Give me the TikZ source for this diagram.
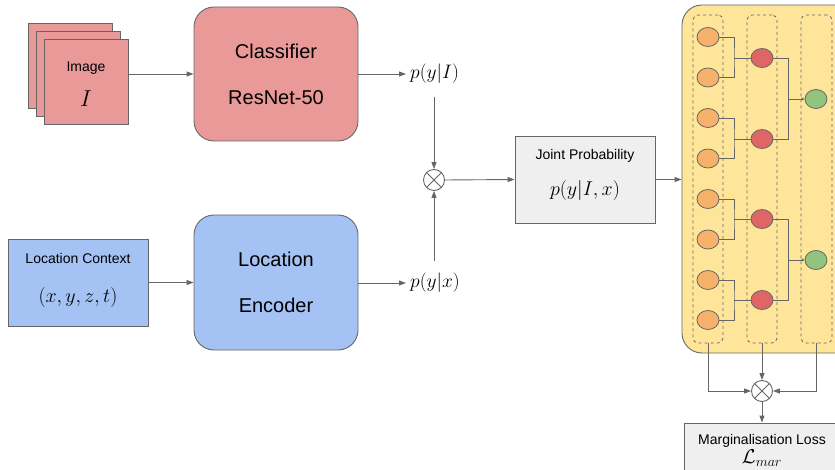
\RequirePackage{fix-cm}
\documentclass[tikz,border=0pt]{standalone}
\usepackage{fontspec}
\setmainfont{Liberation Sans}
\usetikzlibrary{arrows.meta,shapes.geometric,calc}
\definecolor{pinkf}{HTML}{EA9999}
\definecolor{bluef}{HTML}{A4C2F4}
\definecolor{yellowf}{HTML}{FFE599}
\definecolor{grayf}{HTML}{EFEFEF}
\definecolor{orangef}{HTML}{F6B26B}
\definecolor{redf}{HTML}{E06666}
\definecolor{greenf}{HTML}{93C47D}
\definecolor{linec}{HTML}{666666}
\tikzset{
  box/.style={draw=linec, line width=0.9pt, inner sep=0pt, align=center},
  bigbox/.style={box, rounded corners=20pt, minimum width=164pt, minimum height=134pt, font=\fontsize{20}{26}\selectfont},
  smallbox/.style={box, minimum width=140pt, minimum height=87pt},
  txt/.style={inner sep=0pt, align=center, font=\fontsize{14}{17}\selectfont},
  conn/.style={draw=linec, line width=0.9pt},
  arr/.style={conn, -{Triangle[length=7pt,width=5pt]}},
  sarr/.style={conn, -{Triangle[length=3pt,width=3pt]}},
  mathlbl/.style={inner sep=0pt, font=\fontsize{19.5}{20}\selectfont},
  otimesnode/.style={circle, draw=linec, line width=0.9pt, fill=white, minimum size=21pt, inner sep=0pt,
    path picture={\draw[linec, line width=0.9pt] (path picture bounding box.north west) -- (path picture bounding box.south east)
      (path picture bounding box.north east) -- (path picture bounding box.south west);}},
  dcol/.style={draw=linec, dashed, line width=0.8pt, rounded corners=5pt, minimum width=30pt, minimum height=328pt, inner sep=0pt},
  leaf/.style={ellipse, draw=linec, line width=0.8pt, minimum width=22pt, minimum height=19pt, inner sep=0pt},
}
\newcommand{\bm}[1]{{\fontsize{20}{20}\selectfont$#1$}}
\newcommand{\hm}[1]{{\fontsize{23}{23}\selectfont$#1$}}
\begin{document}
\begin{tikzpicture}[x=1pt,y=-1pt]
\useasboundingbox (0,0) rectangle (835,470);
\begin{scope}
\clip (0,0) rectangle (835,470);
% image stack
\node[box, fill=pinkf, minimum width=84pt, minimum height=85pt] (img3) at (70,66) {};
\node[box, fill=pinkf, minimum width=84pt, minimum height=85pt] (img2) at (78,74) {};
\node[box, fill=pinkf, minimum width=84pt, minimum height=85pt] (img) at (86,81.5) {};
\node[txt] (imgt) at (86,84) {Image\\[16pt]\hm{I}};
% classifier
\node[bigbox, fill=pinkf] (cls) at (276,74) {Classifier\\[20pt]ResNet-50};
% location context
\node[smallbox, fill=bluef] (loc) at (78,282.5) {};
\node[txt] (loct) at (78,280) {Location Context\\[22pt]\bm{(x,y,z,t)}};
% location encoder
\node[bigbox, fill=bluef, minimum height=135pt] (enc) at (276,282.5) {Location\\[20pt]Encoder};
% labels
\node[mathlbl, anchor=west] (pI) at (410,74) {$p(y|I)$};
\node[mathlbl, anchor=west] (px) at (410,283) {$p(y|x)$};
\node[otimesnode] (ot) at (434,180) {};
% joint
\node[smallbox, fill=grayf] (joint) at (585,179.5) {};
\node[txt] (jointt) at (585,174.5) {Joint Probability\\[17pt]\bm{p(y|I,x)}};
% yellow
\node[box, fill=yellowf, rounded corners=20pt, minimum width=190pt, minimum height=348pt] (yel) at (777,179) {};
\node[dcol] (c1) at (708,179) {};
\node[dcol] (c2) at (762,179) {};
\node[dcol, minimum width=31pt] (c3) at (816.5,179) {};
% leaves
\foreach \i/\y in {1/37,2/77.5,3/118,4/158.5,5/199,6/239.5,7/280,8/320}{
  \node[leaf, fill=orangef] (o\i) at (708,\y) {};
}
\foreach \i/\y in {1/58,2/139,3/219,4/300}{
  \node[leaf, fill=redf] (r\i) at (762,\y) {};
}
\node[leaf, fill=greenf] (g1) at (816,99) {};
\node[leaf, fill=greenf] (g2) at (816,260) {};
% tree connectors
\coordinate (j1) at (734,58);
\coordinate (j2) at (734,139);
\coordinate (j3) at (734,219);
\coordinate (j4) at (734,300);
\draw[conn] (o1.east) -| (j1) |- (o2.east);
\draw[conn] (o3.east) -| (j2) |- (o4.east);
\draw[conn] (o5.east) -| (j3) |- (o6.east);
\draw[conn] (o7.east) -| (j4) |- (o8.east);
\draw[conn] (j1) -- (r1.west);
\draw[conn] (j2) -- (r2.west);
\draw[conn] (j3) -- (r3.west);
\draw[conn] (j4) -- (r4.west);
\coordinate (k1) at (788,99);
\coordinate (k2) at (788,260);
\draw[conn] (r1.east) -| (k1) |- (r2.east);
\draw[conn] (r3.east) -| (k2) |- (r4.east);
\draw[sarr] (k1) -- (g1.west);
\draw[sarr] (k2) -- (g2.west);
% bottom
\node[otimesnode] (ot2) at (762,391) {};
\node[box, fill=grayf, minimum width=170pt, minimum height=70pt] (loss) at (769,458) {};
\node[txt] (losst) at (762,450.5) {Marginalisation Loss\\[2pt]\bm{\mathcal{L}_{mar}}};
% arrows
\coordinate (a1) at (434,97);
\coordinate (a2) at (434,261);
\draw[arr] (img.east |- cls.west) -- (cls.west);
\draw[arr] (loc.east) -- (enc.west);
\draw[arr] (cls.east) -- ([xshift=-4pt]pI.west);
\draw[arr] (enc.east |- px.west) -- ([xshift=-4pt]px.west);
\draw[arr] (a1) -- (ot.north);
\draw[arr] (a2) -- (ot.south);
\draw[arr] (ot.east) -- (joint.west);
\draw[arr] (joint.east) -- (joint.east -| yel.west);
\draw[arr] (c1.south) |- (ot2.west);
\draw[arr] (c2.south) -- (ot2.north);
\draw[arr] (c3.south) |- (ot2.east);
\draw[arr] (ot2.south) -- (loss.north -| ot2.south);
\end{scope}
\end{tikzpicture}
\end{document}
